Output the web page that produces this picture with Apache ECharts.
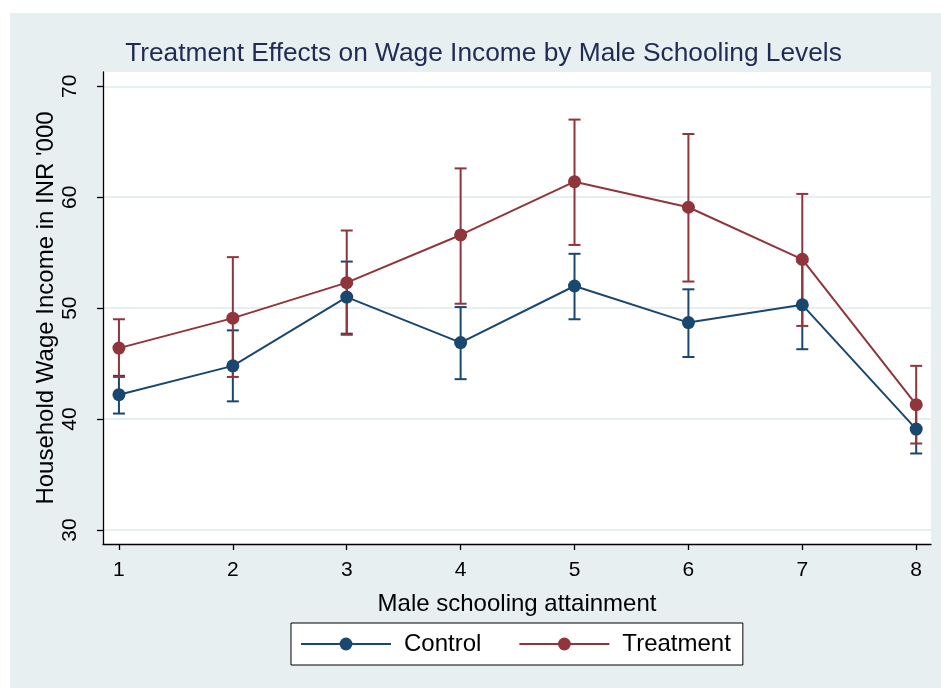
<!DOCTYPE html>
<html>
<head>
<meta charset="utf-8">
<script src="https://cdn.jsdelivr.net/npm/echarts@6/dist/echarts.min.js"></script>
<style>
  html, body { margin: 0; padding: 0; background: #ffffff; }
  #chart { width: 941px; height: 688px; }
</style>
</head>
<body>
<div id="chart"></div>
<script>
// Male schooling attainment levels (x axis)
const levels = [1, 2, 3, 4, 5, 6, 7, 8];

// Mean household wage income (INR '000) with 95% confidence bounds
const controlMean = [42.2, 44.8, 51.0, 46.9, 52.0, 48.7, 50.3, 39.1];
const controlLow  = [40.5, 41.6, 47.7, 43.6, 49.0, 45.6, 46.3, 36.9];
const controlHigh = [43.9, 48.0, 54.2, 50.1, 54.9, 51.7, 54.2, 41.2];

const treatMean = [46.4, 49.1, 52.3, 56.6, 61.4, 59.1, 54.4, 41.3];
const treatLow  = [43.8, 43.8, 47.6, 50.4, 55.7, 52.4, 48.4, 37.8];
const treatHigh = [49.0, 54.6, 57.0, 62.6, 67.0, 65.7, 60.3, 44.8];

// Axis tick labels
const xTicks = [1, 2, 3, 4, 5, 6, 7, 8];
const yTicks = [30, 40, 50, 60, 70];

const navy = '#1a476f';
const maroon = '#90353b';
const panel = '#e8eff1';
const font = '"Liberation Sans", Arial, sans-serif';

const toPairs = (xs, ys) => xs.map((x, i) => [x, ys[i]]);
const toBars = (xs, lo, hi) => xs.map((x, i) => [x, lo[i], hi[i]]);

// Vertical confidence bar with short horizontal caps
function errorBar(color) {
  return function (params, api) {
    const x = api.value(0);
    const top = api.coord([x, api.value(2)]);
    const bot = api.coord([x, api.value(1)]);
    const half = 6;
    const style = { stroke: color, lineWidth: 2 };
    return {
      type: 'group',
      children: [
        { type: 'line', shape: { x1: top[0], y1: top[1], x2: bot[0], y2: bot[1] }, style },
        { type: 'line', shape: { x1: top[0] - half, y1: top[1], x2: top[0] + half, y2: top[1] }, style },
        { type: 'line', shape: { x1: bot[0] - half, y1: bot[1], x2: bot[0] + half, y2: bot[1] }, style }
      ]
    };
  };
}

const chart = echarts.init(document.getElementById('chart'), null, { renderer: 'canvas' });

chart.setOption({
  animation: false,
  backgroundColor: panel,
  textStyle: { fontFamily: font },
  graphic: [
    { type: 'rect', shape: { x: 0, y: 0, width: 941, height: 13 }, style: { fill: '#ffffff' }, silent: true },
    { type: 'rect', shape: { x: 0, y: 0, width: 10, height: 688 }, style: { fill: '#ffffff' }, silent: true }
  ],
  title: {
    text: 'Treatment Effects on Wage Income by Male Schooling Levels',
    left: 483.5,
    textAlign: 'center',
    top: 41,
    padding: 0,
    textStyle: { fontFamily: font, fontSize: 26.3, fontWeight: 'normal', color: '#1e2c54' }
  },
  grid: {
    left: 103, top: 72, right: 10, bottom: 144,
    show: true, backgroundColor: '#ffffff', borderWidth: 0
  },
  legend: {
    data: ['Control', 'Treatment'],
    left: 291, top: 623,
    padding: [9, 12, 9, 9],
    itemWidth: 90, itemHeight: 16, itemGap: 37,
    backgroundColor: '#ffffff',
    borderColor: '#000000', borderWidth: 1,
    textStyle: { fontFamily: font, fontSize: 24, color: '#000000', padding: [0, 0, 0, 8] }
  },
  xAxis: {
    type: 'value',
    min: 0.86, max: 8.13,
    name: 'Male schooling attainment',
    nameLocation: 'middle', nameGap: 48,
    nameMoveOverlap: false,
    nameTextStyle: { fontFamily: font, fontSize: 24, color: '#000000' },
    axisLine: { show: true, lineStyle: { color: '#000000', width: 1.3 } },
    axisTick: { show: true, customValues: xTicks, length: 6, lineStyle: { color: '#000000', width: 1.3 } },
    axisLabel: { customValues: xTicks, fontSize: 21, color: '#000000', margin: 16 },
    splitLine: { show: false }
  },
  yAxis: {
    type: 'value',
    min: 28.74, max: 71.29,
    name: "Household Wage Income in INR '000",
    nameLocation: 'middle', nameGap: 45,
    nameMoveOverlap: false,
    nameTextStyle: { fontFamily: font, fontSize: 24, color: '#000000' },
    axisLine: { show: true, lineStyle: { color: '#000000', width: 1.3 } },
    axisTick: { show: true, customValues: yTicks, length: 6, lineStyle: { color: '#000000', width: 1.3 } },
    axisLabel: { customValues: yTicks, fontSize: 21, color: '#000000', rotate: 90, margin: 22 },
    splitLine: { show: true, customValues: yTicks, lineStyle: { color: panel, width: 2 } }
  },
  series: [
    {
      name: 'Control CI', type: 'custom', z: 2,
      renderItem: errorBar(navy),
      encode: { x: 0, y: [1, 2] },
      data: toBars(levels, controlLow, controlHigh)
    },
    {
      name: 'Treatment CI', type: 'custom', z: 2,
      renderItem: errorBar(maroon),
      encode: { x: 0, y: [1, 2] },
      data: toBars(levels, treatLow, treatHigh)
    },
    {
      name: 'Control', type: 'line', z: 3,
      data: toPairs(levels, controlMean),
      color: navy,
      symbol: 'circle', symbolSize: 13,
      lineStyle: { color: navy, width: 2 },
      itemStyle: { color: navy }
    },
    {
      name: 'Treatment', type: 'line', z: 4,
      data: toPairs(levels, treatMean),
      color: maroon,
      symbol: 'circle', symbolSize: 13,
      lineStyle: { color: maroon, width: 2 },
      itemStyle: { color: maroon }
    }
  ]
});
</script>
</body>
</html>
